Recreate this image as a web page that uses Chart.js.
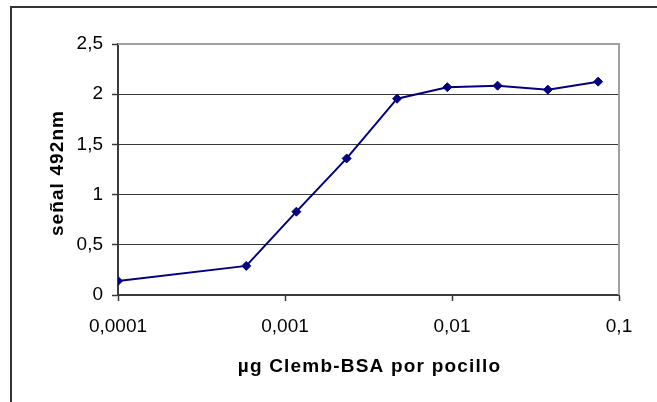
<!DOCTYPE html>
<html>
<head>
<meta charset="utf-8">
<script src="https://cdn.jsdelivr.net/npm/chart.js@4/dist/chart.umd.min.js"></script>
<style>
  html, body { margin: 0; padding: 0; background: #ffffff; }
  #wrap { width: 657px; height: 402px; position: relative; }
</style>
</head>
<body>
<div id="wrap"><canvas id="c" width="657" height="402"></canvas></div>
<script>
// Antigen amount per well (µg) and measured signal at 492 nm
const doses = [0.0001, 0.000586, 0.00117, 0.00234, 0.00469, 0.00938, 0.01875, 0.0375, 0.075];
const signal = [0.14, 0.29, 0.83, 1.36, 1.955, 2.07, 2.085, 2.045, 2.125];

const xTickValues = [0.0001, 0.001, 0.01, 0.1];
const xTickLabels = ['0,0001', '0,001', '0,01', '0,1'];
const yTickValues = [0, 0.5, 1, 1.5, 2, 2.5];
const yTickLabels = ['0', '0,5', '1', '1,5', '2', '2,5'];

const xTitle = 'µg Clemb-BSA por pocillo';
const yTitle = 'señal 492nm';

const FONT = '"Liberation Sans", Arial, Helvetica, sans-serif';
const DARK = '#3a3a3a';
const GREY = '#a0a0a0';

// Outer frame, light top/right edges of the plot area, and the axis titles
const framePlugin = {
  id: 'frame',
  beforeDraw(chart) {
    const ctx = chart.ctx;
    ctx.save();
    ctx.strokeStyle = '#333333';
    ctx.lineWidth = 2;
    ctx.strokeRect(11, 7, 700, 500);
    ctx.restore();
  },
  beforeDatasetsDraw(chart) {
    const { ctx, chartArea: a } = chart;
    ctx.save();
    ctx.strokeStyle = GREY;
    ctx.lineWidth = 2;
    ctx.beginPath();
    ctx.moveTo(a.left, a.top);
    ctx.lineTo(a.right, a.top);
    ctx.lineTo(a.right, a.bottom);
    ctx.stroke();
    ctx.restore();
  },
  afterDraw(chart) {
    const { ctx, chartArea: a } = chart;
    ctx.save();
    ctx.fillStyle = '#000';
    ctx.font = 'bold 19px ' + FONT;
    ctx.letterSpacing = '1.2px';
    ctx.textAlign = 'center';
    ctx.textBaseline = 'alphabetic';
    ctx.fillText(xTitle, (a.left + a.right) / 2 + 1, 372);
    ctx.letterSpacing = '1.1px';
    ctx.translate(63, 173);
    ctx.rotate(-Math.PI / 2);
    ctx.fillText(yTitle, 0, 0);
    ctx.restore();
  }
};

new Chart(document.getElementById('c'), {
  type: 'line',
  data: {
    datasets: [{
      data: doses.map((d, i) => ({ x: d, y: signal[i] })),
      borderColor: '#000080',
      backgroundColor: '#000080',
      borderWidth: 2,
      pointStyle: 'rectRot',
      pointRadius: 4.5,
      pointBorderWidth: 1,
      pointBorderColor: '#000080',
      pointBackgroundColor: '#000080',
      tension: 0,
      fill: false
    }]
  },
  options: {
    responsive: false,
    animation: false,
    events: [],
    layout: { padding: { left: 0, right: 38, top: 44, bottom: 0 } },
    plugins: { legend: { display: false }, tooltip: { enabled: false } },
    scales: {
      x: {
        type: 'logarithmic',
        min: 0.0001,
        max: 0.1,
        afterBuildTicks(scale) {
          scale.ticks = xTickValues.map(v => ({ value: v, major: true }));
        },
        afterFit(scale) { scale.height = 107; },
        ticks: {
          autoSkip: false,
          maxRotation: 0,
          padding: 14,
          color: '#000',
          font: { family: FONT, size: 19 },
          callback(value) {
            const i = xTickValues.findIndex(v => Math.abs(v - value) / v < 1e-6);
            return i >= 0 ? xTickLabels[i] : '';
          }
        },
        grid: {
          drawOnChartArea: false,
          drawTicks: true,
          tickLength: 6,
          tickColor: DARK,
          tickWidth: 1.5
        },
        border: { display: true, color: DARK, width: 2 },
        title: { display: false }
      },
      y: {
        type: 'linear',
        min: 0,
        max: 2.5,
        afterBuildTicks(scale) {
          scale.ticks = yTickValues.map(v => ({ value: v }));
        },
        afterFit(scale) { scale.width = 118; },
        ticks: {
          padding: 9,
          color: '#000',
          font: { family: FONT, size: 19 },
          callback(value) {
            const i = yTickValues.findIndex(v => Math.abs(v - value) < 1e-9);
            return i >= 0 ? yTickLabels[i] : '';
          }
        },
        grid: {
          drawOnChartArea: true,
          color: ctx => (ctx.tick && ctx.tick.value === 2.5 ? GREY : DARK),
          lineWidth: 1,
          drawTicks: true,
          tickLength: 6,
          tickColor: DARK,
          tickWidth: 1.5
        },
        border: { display: true, color: DARK, width: 2 },
        title: { display: false }
      }
    }
  },
  plugins: [framePlugin]
});
</script>
</body>
</html>
